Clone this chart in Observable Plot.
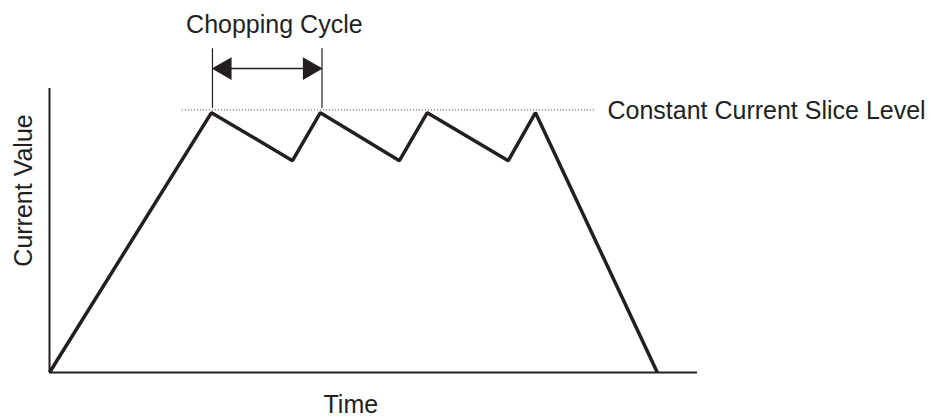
<!DOCTYPE html>
<html>
<head>
<meta charset="utf-8">
<script src="https://cdn.jsdelivr.net/npm/d3@7"></script>
<script src="https://cdn.jsdelivr.net/npm/@observablehq/plot@0.6"></script>
<style>
  html, body { margin: 0; padding: 0; background: #fff; }
  svg { display: block; }
</style>
</head>
<body>
<div id="chart"></div>
<script>
// Waveform (time in % of axis, current in % of axis)
const timePoints    = [0, 25, 37.5, 41.8, 54, 58.3, 70.8, 75, 93.8];
const currentValues = [0, 91.5, 74.6, 91.5, 74.6, 91.5, 74.6, 91.5, 0];
const sliceLevel = 92.5;
const sliceExtent = [20.5, 84.3];
const chopCycle = [25.15, 42.05];
const chopMarkerY = [93, 114];
const chopArrowY = 107;
const xLabel = "Time";
const yLabel = "Current Value";
const chopLabel = "Chopping Cycle";
const sliceLabel = "Constant Current Slice Level";

const wave = timePoints.map((t, i) => ({t, v: currentValues[i]}));
const ink = "#231f20";
const font = "Liberation Sans, Arial, Helvetica, sans-serif";

const chart = Plot.plot({
  width: 933,
  height: 417,
  x: {domain: [0, 100], range: [49, 697], axis: null},
  y: {domain: [0, 100], range: [372, 88], axis: null},
  style: {fontFamily: font, background: "#fff"},
  marks: [
    // axes
    Plot.ruleX([0], {y1: 0, y2: 100, stroke: ink, strokeWidth: 2}),
    Plot.ruleY([0], {x1: 0, x2: 100, stroke: ink, strokeWidth: 2}),
    // slice level dotted line
    Plot.ruleY([sliceLevel], {x1: sliceExtent[0], x2: sliceExtent[1], stroke: "#666", strokeWidth: 1.2, strokeDasharray: "1,2"}),
    // waveform
    Plot.line(wave, {x: "t", y: "v", stroke: ink, strokeWidth: 3.5, strokeLinejoin: "miter", strokeLinecap: "butt"}),
    // chopping cycle markers
    Plot.ruleX(chopCycle, {y1: chopMarkerY[0], y2: chopMarkerY[1], stroke: ink, strokeWidth: 1.2}),
    Plot.ruleY([chopArrowY], {x1: chopCycle[0] + 2, x2: chopCycle[1] - 2, stroke: ink, strokeWidth: 1.5}),
    Plot.dot([chopCycle[0]], {x: d => d, y: chopArrowY, symbol: "triangle", rotate: -90, r: 8.5, dx: 12.5, fill: ink, stroke: "none"}),
    Plot.dot([chopCycle[1]], {x: d => d, y: chopArrowY, symbol: "triangle", rotate: 90, r: 8.5, dx: -12.5, fill: ink, stroke: "none"}),
    // labels
    Plot.text([chopLabel], {x: 34.7, y: 122.5, text: d => d, fontSize: 25, fill: ink, textAnchor: "middle"}),
    Plot.text([sliceLabel], {x: 86.1, y: sliceLevel, dy: 1, text: d => d, fontSize: 25, fill: ink, textAnchor: "start"}),
    Plot.text([xLabel], {x: 46.5, y: 0, dy: 32, text: d => d, fontSize: 25, fill: ink, textAnchor: "middle"}),
    Plot.text([yLabel], {x: 0, y: 64.1, dx: -26, rotate: -90, text: d => d, fontSize: 25, fill: ink, textAnchor: "middle"})
  ]
});
document.getElementById("chart").appendChild(chart);
</script>
</body>
</html>
